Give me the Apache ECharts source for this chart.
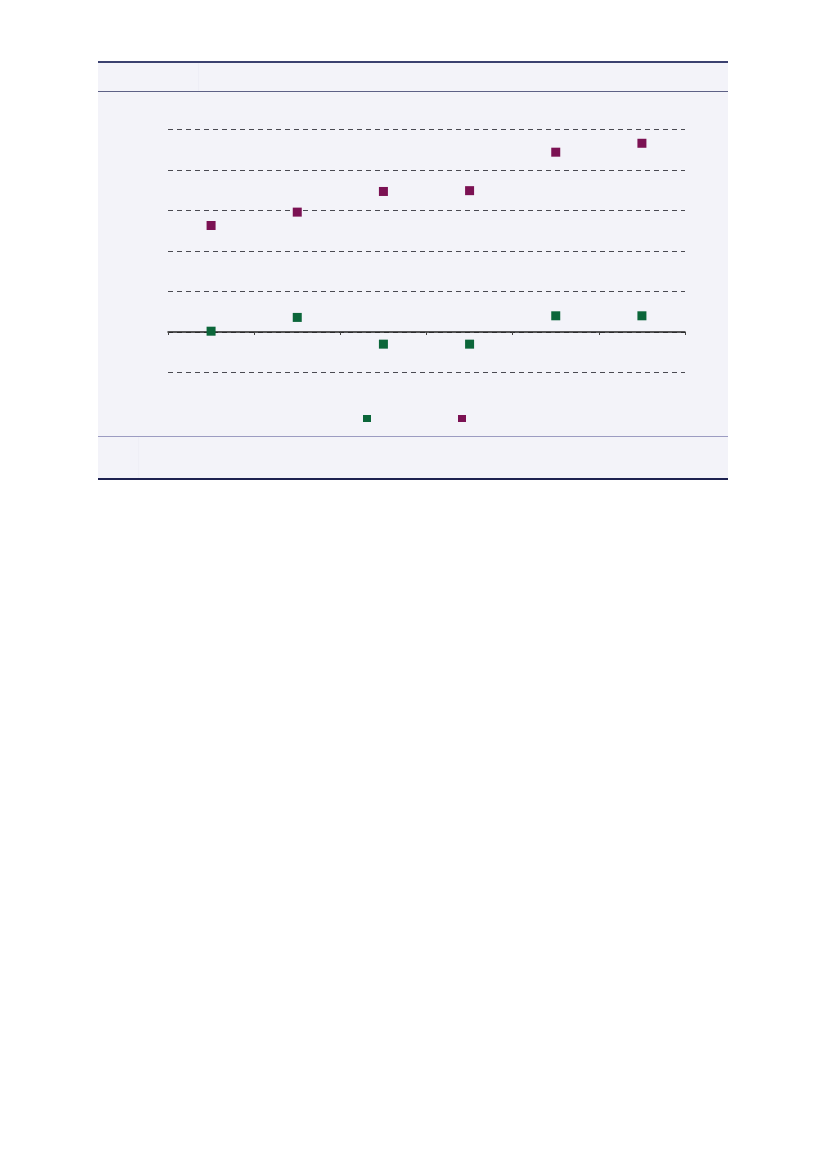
<!DOCTYPE html>
<html>
<head>
<meta charset="utf-8">
<script src="https://cdn.jsdelivr.net/npm/echarts@6/dist/echarts.min.js"></script>
<style>
  html, body { margin: 0; padding: 0; background: #fff; }
  #chart { width: 826px; height: 1169px; }
</style>
</head>
<body>
<div id="chart"></div>
<script>
// data
const categories = ['1', '2', '3', '4', '5', '6']
const seriesNames = ['Series 1', 'Series 2']
const greenValues = [0.02, 0.36, -0.30, -0.30, 0.40, 0.40]
const purpleValues = [2.63, 2.96, 3.47, 3.49, 4.44, 4.66]
const yTicks = [-1, 0, 1, 2, 3, 4, 5]

const GREEN = '#0b663a'
const PURPLE = '#7b1153'

let myChart = echarts.init(document.getElementById('chart'), null, { renderer: 'canvas' })

let option = {
  backgroundColor: '#ffffff',
  animation: false,
  graphic: [
    // panel background
    { type: 'rect', z: -10, shape: { x: 98, y: 61, width: 630, height: 418 }, style: { fill: '#f3f3f9' } },
    // header band lines
    { type: 'line', z: -9, shape: { x1: 98, y1: 62, x2: 728, y2: 62 }, style: { stroke: '#3b4170', lineWidth: 2 } },
    { type: 'line', z: -9, shape: { x1: 98, y1: 91.5, x2: 728, y2: 91.5 }, style: { stroke: '#5d6186', lineWidth: 1 } },
    { type: 'line', z: -9, shape: { x1: 198.5, y1: 63, x2: 198.5, y2: 91 }, style: { stroke: '#eeeef6', lineWidth: 1 } },
    // footer lines
    { type: 'line', z: -9, shape: { x1: 98, y1: 436.5, x2: 728, y2: 436.5 }, style: { stroke: '#9c9cc2', lineWidth: 1 } },
    { type: 'line', z: -9, shape: { x1: 138.5, y1: 437, x2: 138.5, y2: 478 }, style: { stroke: '#efeff6', lineWidth: 1 } },
    { type: 'line', z: -9, shape: { x1: 98, y1: 479, x2: 728, y2: 479 }, style: { stroke: '#1d2150', lineWidth: 2 } }
  ],
  legend: {
    left: 363,
    top: 415,
    padding: 0,
    itemWidth: 8,
    itemHeight: 7,
    itemGap: 87,
    icon: 'rect',
    formatter: () => '',
    data: seriesNames
  },
  grid: {
    left: 168,
    right: 141,
    top: 129.5,
    bottom: 796.5
  },
  xAxis: {
    type: 'category',
    data: categories,
    boundaryGap: true,
    axisLine: { onZero: true, lineStyle: { color: '#222', width: 1.5 } },
    axisTick: { show: true, length: 3, lineStyle: { color: '#444' } },
    axisLabel: { show: false },
    splitLine: { show: false }
  },
  yAxis: {
    type: 'value',
    min: yTicks[0],
    max: yTicks[yTicks.length - 1],
    interval: 1,
    axisLine: { show: false },
    axisTick: { show: false },
    axisLabel: { show: false },
    splitLine: { show: true, lineStyle: { color: '#4a4a52', type: [5, 4], width: 1 } }
  },
  series: [
    {
      name: seriesNames[0],
      type: 'scatter',
      symbol: 'rect',
      symbolSize: 9,
      itemStyle: { color: GREEN, opacity: 1 },
      data: greenValues
    },
    {
      name: seriesNames[1],
      type: 'scatter',
      symbol: 'rect',
      symbolSize: 9,
      itemStyle: { color: PURPLE, opacity: 1 },
      data: purpleValues
    }
  ]
}
myChart.setOption(option)
</script>
</body>
</html>
